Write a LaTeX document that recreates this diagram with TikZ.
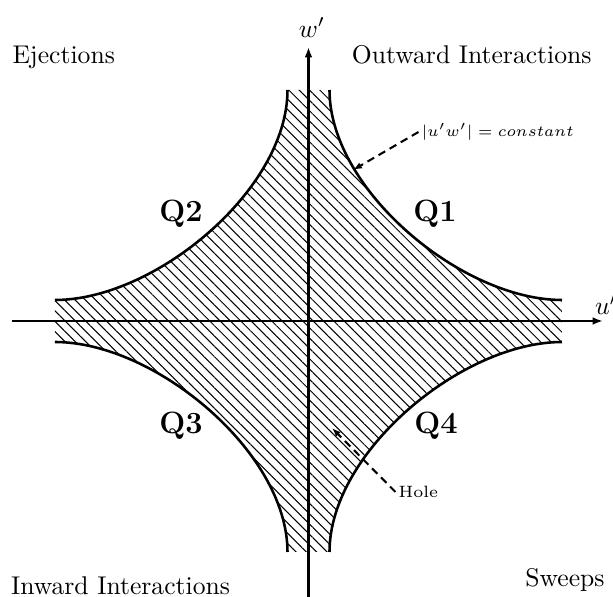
\documentclass[tikz,border=0pt]{standalone}
\usetikzlibrary{arrows.meta,patterns.meta}
\begin{document}
\begin{tikzpicture}[x=0.39pt,y=0.39pt,
  axis/.style={line width=1pt,-{Latex[length=4pt,width=3pt]}},
  bound/.style={line width=1pt},
  hatch/.style={pattern={Lines[angle=-45,distance=2.85pt,line width=0.4pt]}},
  pointer/.style={line width=0.8pt,dash pattern=on 3pt off 2pt,-{Latex[length=3.5pt,width=2.6pt]}},
  quad/.style={font=\large\bfseries,anchor=base,inner sep=0pt},
  note/.style={font=\fontsize{6.4}{8}\selectfont,inner sep=1pt}]
\useasboundingbox (-308.5,-276) rectangle (304.5,321);
% hatched region
\fill[hatch] (-21,231) .. controls (-21,131) and (-153.5,21) .. (-253.5,21)
  -- (-253.5,-21) .. controls (-153.5,-21) and (-21,-131) .. (-21,-231)
  -- (21,-231) .. controls (21,-131) and (153.5,-21) .. (253.5,-21)
  -- (253.5,21) .. controls (153.5,21) and (21,131) .. (21,231) -- cycle;
% boundary curves
\draw[bound] (21,231) .. controls (21,131) and (153.5,21) .. (253.5,21);
\draw[bound] (-21,231) .. controls (-21,131) and (-153.5,21) .. (-253.5,21);
\draw[bound] (-21,-231) .. controls (-21,-131) and (-153.5,-21) .. (-253.5,-21);
\draw[bound] (21,-231) .. controls (21,-131) and (153.5,-21) .. (253.5,-21);
% axes
\coordinate (xl) at (-296.5,0);
\coordinate (xr) at (294.5,0);
\coordinate (yb) at (0,-280);
\coordinate (yt) at (0,274);
\draw[axis] (xl) -- (xr);
\draw[axis] (yb) -- (yt);
\node[inner sep=0pt] (wl) at (3.5,293.5) {$w'$};
\node[anchor=west,inner sep=0pt] (ul) at (286,16) {$u'$};
% corner labels
\node[anchor=base west,inner sep=0pt] (ej) at (-296.5,257) {Ejections};
\node[anchor=base east,inner sep=0pt] (oi) at (283.5,257) {Outward Interactions};
\node[anchor=base west,inner sep=0pt] (ii) at (-298,-274) {Inward Interactions};
\node[anchor=base east,inner sep=0pt] (sw) at (296.5,-266) {Sweeps};
% quadrant labels
\node[quad] (q1) at (126.5,99) {Q1};
\node[quad] (q2) at (-127.5,99) {Q2};
\node[quad] (q3) at (-127.5,-113) {Q3};
\node[quad] (q4) at (127.5,-113) {Q4};
% annotations
\node[note,anchor=west] (cst) at (110,189) {$|u'w'| = constant$};
\coordinate (cstTip) at (44.5,151);
\draw[pointer] (cst.west) -- (cstTip);
\node[note,anchor=west] (hole) at (87,-171) {Hole};
\coordinate (holeTip) at (23.5,-107);
\draw[pointer] (hole.west) -- (holeTip);
\end{tikzpicture}
\end{document}
